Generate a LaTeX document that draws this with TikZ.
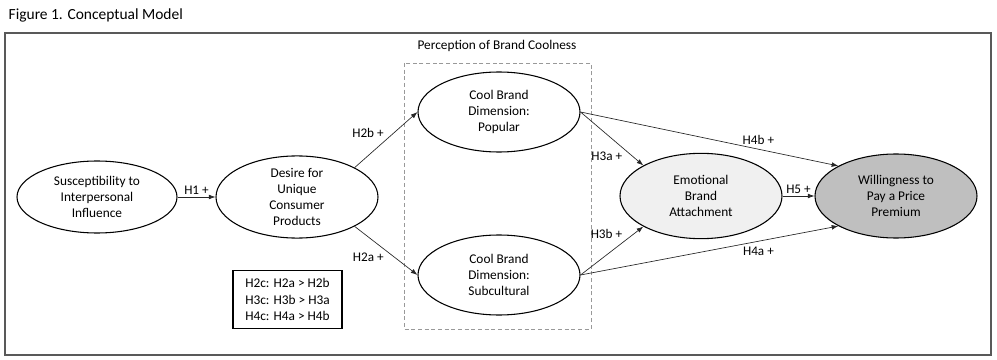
\documentclass[tikz,border=0pt]{standalone}
\usepackage{fontspec}
\setmainfont{Carlito}
\usetikzlibrary{shapes.geometric, positioning, arrows.meta}
\tikzset{
x=0.75pt, y=-0.75pt, % one unit is one pixel of the figure
>={Latex[length=5pt,width=3.6pt]}, % small filled arrow heads
construct/.style={ellipse, draw, line width=0.8pt, inner sep=0pt, align=center, minimum width=121.5pt, minimum height=60pt}, % sets the properties for each ellipse
link/.style={->, draw=black!85, line width=0.5pt}, % the hypothesis arrows
hyp/.style={inner sep=1.5pt, font=\fontsize{9.9}{12}\selectfont}, % labels on the arrows
}

\begin{document}
\begin{tikzpicture}[font=\fontsize{10}{12.2}\selectfont]
        \useasboundingbox (0,0) rectangle (997,360);
        \node[anchor=base west, font=\fontsize{11.6}{13}\selectfont] (title) at (4,20) {Figure 1. Conceptual Model};
        \draw[line width=1.2pt, black!65] (5,33) rectangle (991,355);
        \draw[dashed, dash pattern=on 3pt off 2pt, black!40, line width=0.6pt] (404,63) rectangle (591,329);
        \node[anchor=base] (group) at (497,50) {Perception of Brand Coolness};

        \node[construct, minimum height=54pt, minimum width=120pt] (sii) at (97,197) {Susceptibility to\\Interpersonal\\Influence};
        \node[construct, minimum height=57pt] (ducp) at (297,197) {Desire for\\Unique\\Consumer\\Products};
        \node[construct] (pop) at (499,112) {Cool Brand\\Dimension:\\Popular};
        \node[construct] (sub) at (499,275) {Cool Brand\\Dimension:\\Subcultural};
        \node[construct, minimum height=64pt, fill=black!6] (emo) at (701,196) {Emotional\\Brand\\Attachment};
        \node[construct, minimum height=63pt, fill=black!25] (wtp) at (896,196) {Willingness to\\Pay a Price\\Premium};

        \node[draw, line width=0.8pt, align=left, minimum width=81.75pt, minimum height=44pt] (rank) at (287.5,299.5) {H2c: H2a > H2b\\H3c: H3b > H3a\\H4c: H4a > H4b};

        \draw (sii.east) edge[link] node[hyp, above] {H1 +} (ducp.west)
        (ducp.north east) edge[link] node[hyp, midway, above left] {H2b +} (pop.west)
        (ducp.south east) edge[link] node[hyp, midway, below left] {H2a +} (sub.west)
        (pop.east) edge[link] node[hyp, pos=0.7, below left] {H3a +} (emo.north west)
        (sub.east) edge[link] node[hyp, pos=0.7, above left] {H3b +} (emo.south west)
        (pop.east) edge[link] node[hyp, pos=0.69, above, inner sep=3pt] {H4b +} (wtp.north west)
        (sub.east) edge[link] node[hyp, pos=0.69, below, inner sep=4pt] {H4a +} (wtp.south west)
        (emo.east) edge[link] node[hyp, above] {H5 +} (wtp.west)
        ;\end{tikzpicture}
\end{document}
